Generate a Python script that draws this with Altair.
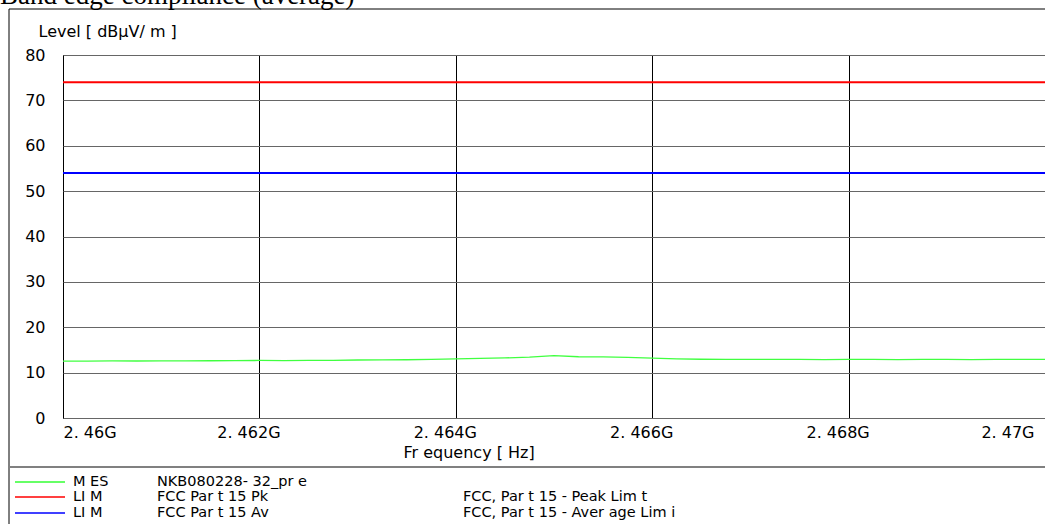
import json
import altair as alt
import pandas as pd

# ---- measurement trace (frequency in GHz, level in dBuV/m) ----
freq_ghz = [
    2.46000, 2.46025, 2.46050, 2.46075, 2.46100, 2.46125, 2.46150, 2.46175,
    2.46200, 2.46225, 2.46250, 2.46275, 2.46300, 2.46325, 2.46350, 2.46375,
    2.46400, 2.46425, 2.46450, 2.46475, 2.46500, 2.46525, 2.46550, 2.46575,
    2.46600, 2.46625, 2.46650, 2.46675, 2.46700, 2.46725, 2.46750, 2.46775,
    2.46800, 2.46825, 2.46850, 2.46875, 2.46900, 2.46925, 2.46950, 2.46975,
    2.47000,
]
level_mes = [
    12.55, 12.55, 12.58, 12.56, 12.60, 12.58, 12.62, 12.65,
    12.68, 12.66, 12.70, 12.72, 12.78, 12.80, 12.84, 12.92,
    13.05, 13.15, 13.25, 13.40, 13.75, 13.50, 13.45, 13.35,
    13.20, 13.05, 12.95, 12.92, 12.90, 12.93, 12.90, 12.88,
    12.90, 12.92, 12.88, 12.90, 12.92, 12.88, 12.90, 12.92,
    12.90,
]

# ---- limit lines ----
limit_values = [74, 54]
limit_colors = ["#ff0000", "#0000ff"]

# ---- axes ----
x_tick_vals = [2.460, 2.462, 2.464, 2.466, 2.468, 2.470]
x_tick_text = ["2. 46G", "2. 462G", "2. 464G", "2. 466G", "2. 468G", "2. 47G"]
y_tick_vals = [0, 10, 20, 30, 40, 50, 60, 70, 80]

# ---- legend ----
legend_colors = ["#33ff33", "#ff0000", "#0000ff"]
legend_tags = ["M ES", "LI M", "LI M"]
legend_names = ["NKB080228- 32_pr e", "FCC Par t 15 Pk", "FCC Par t 15 Av"]
legend_descs = ["", "FCC, Par t 15 - Peak Lim t", "FCC, Par t 15 - Aver age Lim i"]

FONT = "DejaVu Sans"
FS = 16
LEG_FS = 14.5
W, H = 982, 363

trace = pd.DataFrame({"freq": freq_ghz, "level": level_mes})
limits = pd.DataFrame({"level": limit_values, "color": limit_colors})
one = pd.DataFrame({"k": [0]})

label_expr = (
    f"{json.dumps(x_tick_text)}[indexof({json.dumps(x_tick_vals)}, datum.value)]"
)

x_axis = alt.Axis(
    values=x_tick_vals,
    labelExpr=label_expr,
    labelFlush=False,
    labelAlign={
        "condition": [
            {"test": "datum.value <= 2.4601", "value": "left"},
            {"test": "datum.value >= 2.4699", "value": "right"},
        ],
        "value": "center",
    },
    labelOffset={"condition": {"test": "datum.value <= 2.4601", "value": 0}, "value": -11},
    labelBaseline="top",
    labelPadding=6,
    labelFont=FONT,
    labelFontSize=FS,
    labelColor="black",
    ticks=False,
    domain=False,
    grid=True,
    gridColor="black",
    gridWidth=1,
    gridOpacity=1,
    title="Fr equency  [ Hz]",
    titleFont=FONT,
    titleFontSize=FS,
    titleFontWeight="normal",
    titleColor="black",
    titleAnchor="start",
    titleAlign="left",
    titleBaseline="middle",
    titleX=340,
    titleY=34,
)

y_axis = alt.Axis(
    values=y_tick_vals,
    labelFont=FONT,
    labelFontSize=FS,
    labelColor="black",
    labelAlign="right",
    labelBaseline="middle",
    labelPadding=18,
    labelFlush=False,
    ticks=False,
    domain=False,
    grid=True,
    gridColor="#666666",
    gridWidth=1,
    gridOpacity=1,
    title="Level [ dBµV/ m ]",
    titleFont=FONT,
    titleFontSize=FS,
    titleFontWeight="normal",
    titleColor="black",
    titleAngle=0,
    titleAlign="left",
    titleBaseline="middle",
    titleX=-25,
    titleY=-24,
)

x_enc = alt.X("freq:Q", scale=alt.Scale(domain=[2.46, 2.47], nice=False, zero=False), axis=x_axis)
y_enc = alt.Y("level:Q", scale=alt.Scale(domain=[0, 80], nice=False), axis=y_axis)

trace_line = alt.Chart(trace).mark_line(color="#40ff40", strokeWidth=1.3).encode(x=x_enc, y=y_enc)

limit_lines = alt.Chart(limits).mark_rule(strokeWidth=2).encode(
    y=alt.Y("level:Q"),
    color=alt.Color("color:N", scale=None),
)

layers = [trace_line, limit_lines]

# outer frame and legend separator
layers.append(alt.Chart(one).mark_rule(color="black", strokeWidth=1).encode(
    x=alt.value(-54), y=alt.value(-46), y2=alt.value(H + 106)))
layers.append(alt.Chart(one).mark_rule(color="black", strokeWidth=1).encode(
    x=alt.value(-54), x2=alt.value(W), y=alt.value(-46)))
layers.append(alt.Chart(one).mark_rule(color="#808080", strokeWidth=2).encode(
    x=alt.value(-54), x2=alt.value(W), y=alt.value(412)))

# page heading, mostly cut off at the top edge
layers.append(alt.Chart(one).mark_text(
    text="Band edge compliance (average)", font="Liberation Serif", fontSize=27,
    align="left", baseline="alphabetic", color="black",
).encode(x=alt.value(-63), y=alt.value(-51.5)))

# legend rows
row_y = [427, 442, 458]
for color, tag, name, desc, ry in zip(legend_colors, legend_tags, legend_names, legend_descs, row_y):
    layers.append(alt.Chart(one).mark_rule(color=color, strokeWidth=1.5).encode(
        x=alt.value(-48), x2=alt.value(2), y=alt.value(ry)))
    for txt, tx in [(tag, 10), (name, 94), (desc, 400)]:
        if txt:
            layers.append(alt.Chart(one).mark_text(
                text=txt, font=FONT, fontSize=LEG_FS, align="left", baseline="middle", color="black",
            ).encode(x=alt.value(tx), y=alt.value(ry)))

chart = alt.layer(*layers).properties(
    width=W,
    height=H,
    autosize=alt.AutoSizeParams(type="none"),
    padding={"left": 63, "top": 55, "right": 0, "bottom": 106},
    background="white",
).configure_view(stroke="black", strokeWidth=1)

chart.save("out.html", embed_options={"renderer": "svg", "actions": False})
